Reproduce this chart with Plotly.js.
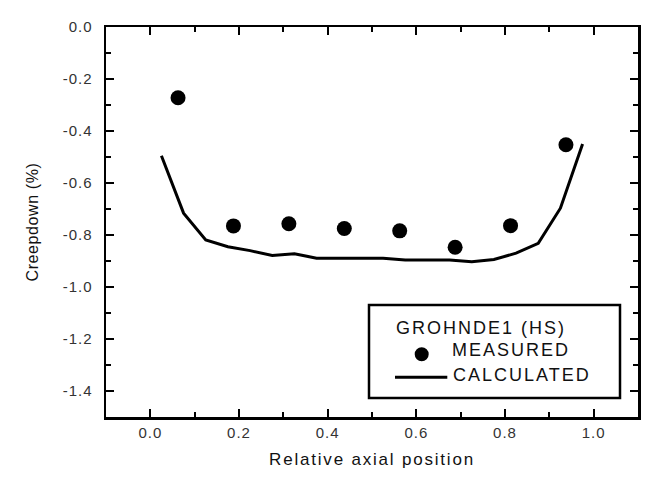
<!DOCTYPE html>
<html>
<head>
<meta charset="utf-8">
<script src="https://cdn.plot.ly/plotly-3.0.1.min.js"></script>
<style>
  html, body { margin: 0; padding: 0; background: #fff; }
  #plot { width: 666px; height: 485px; }
  #plot .xtick text, #plot .ytick text { letter-spacing: 1px; }
  #plot .g-xtitle text { letter-spacing: 1.8px; }
  #plot .g-ytitle text { letter-spacing: 0.6px; }
  #plot .annotation-text { letter-spacing: 2px; }
</style>
</head>
<body>
<div id="plot"></div>
<script>
// Measured creepdown (dots)
const measuredX = [0.0625, 0.1875, 0.3125, 0.4375, 0.5625, 0.6875, 0.8125, 0.9375];
const measuredY = [-0.272, -0.765, -0.757, -0.775, -0.784, -0.847, -0.764, -0.453];

// Calculated creepdown (line)
const calcX = [0.025, 0.075, 0.125, 0.175, 0.225, 0.275, 0.325, 0.375, 0.425, 0.475,
               0.525, 0.575, 0.625, 0.675, 0.725, 0.775, 0.825, 0.875, 0.925, 0.975];
const calcY = [-0.495, -0.716, -0.819, -0.845, -0.860, -0.879, -0.872, -0.889, -0.889, -0.889,
               -0.889, -0.896, -0.896, -0.896, -0.903, -0.894, -0.870, -0.832, -0.697, -0.450];

const xTickVals = [0.0, 0.2, 0.4, 0.6, 0.8, 1.0];
const xTickText = ['0.0', '0.2', '0.4', '0.6', '0.8', '1.0'];
const yTickVals = [0.0, -0.2, -0.4, -0.6, -0.8, -1.0, -1.2, -1.4];
const yTickText = ['0.0', '-0.2', '-0.4', '-0.6', '-0.8', '-1.0', '-1.2', '-1.4'];

const legendTitle = 'GROHNDE1 (HS)';
const legendMeasured = 'MEASURED';
const legendCalculated = 'CALCULATED';

// layout geometry (pixels)
const W = 666, H = 485;
const L = 106, R = 638, T = 27, B = 417;
const px = x => (x - L) / (R - L);
const py = y => (B - y) / (B - T);

const FONT = 'Liberation Sans, Arial, sans-serif';

const traces = [
  {
    x: calcX, y: calcY, type: 'scatter', mode: 'lines',
    line: { color: '#000', width: 3 },
    showlegend: false, hoverinfo: 'skip'
  },
  {
    x: measuredX, y: measuredY, type: 'scatter', mode: 'markers',
    marker: { color: '#000', size: 15, line: { width: 0 } },
    showlegend: false, hoverinfo: 'skip'
  }
];

const axisCommon = {
  showline: true, linecolor: '#000', linewidth: 2.5, mirror: 'ticks',
  ticks: 'inside', ticklen: 8, tickwidth: 2, tickcolor: '#000',
  showgrid: false, zeroline: false,
  tickfont: { family: FONT, size: 15, color: '#333' },
  minor: { ticks: 'inside', ticklen: 5, tickwidth: 2, tickcolor: '#000', showgrid: false }
};

const layout = {
  width: W, height: H,
  margin: { l: L, r: W - R, t: T, b: H - B, pad: 0 },
  paper_bgcolor: '#fff', plot_bgcolor: '#fff',
  showlegend: false,
  xaxis: Object.assign({}, axisCommon, {
    range: [-0.1, 1.1],
    tickmode: 'array', tickvals: xTickVals, ticktext: xTickText,
    minor: Object.assign({}, axisCommon.minor, { dtick: 0.1, tick0: 0.1 }),
    ticklabelstandoff: 0,
    title: { text: 'Relative axial position', font: { family: FONT, size: 17, color: '#111' }, standoff: 14 }
  }),
  yaxis: Object.assign({}, axisCommon, {
    range: [-1.5, 0],
    tickmode: 'array', tickvals: yTickVals, ticktext: yTickText,
    minor: Object.assign({}, axisCommon.minor, { dtick: 0.1, tick0: 0 }),
    ticklabelstandoff: 8,
    title: { text: 'Creepdown (%)', font: { family: FONT, size: 16, color: '#111' }, standoff: 24 }
  }),
  shapes: [
    { type: 'rect', xref: 'paper', yref: 'paper',
      x0: px(369), x1: px(620), y0: py(305), y1: py(398),
      line: { color: '#000', width: 2.5 }, fillcolor: '#fff', layer: 'above' },
    { type: 'circle', xref: 'paper', yref: 'paper',
      x0: px(421.7 - 7), x1: px(421.7 + 7), y0: py(354.3 + 7), y1: py(354.3 - 7),
      line: { color: '#000', width: 0 }, fillcolor: '#000', layer: 'above' },
    { type: 'line', xref: 'paper', yref: 'paper',
      x0: px(395), x1: px(447.3), y0: py(377.3), y1: py(377.3),
      line: { color: '#000', width: 3 }, layer: 'above' }
  ],
  annotations: [
    { xref: 'paper', yref: 'paper', x: px(396), y: py(327.5), xanchor: 'left', yanchor: 'middle', xshift: 11,
      text: legendTitle, showarrow: false, font: { family: FONT, size: 18, color: '#111' } },
    { xref: 'paper', yref: 'paper', x: px(450.5), y: py(350), xanchor: 'left', yanchor: 'middle', xshift: 7,
      text: legendMeasured, showarrow: false, font: { family: FONT, size: 18, color: '#111' } },
    { xref: 'paper', yref: 'paper', x: px(452), y: py(375), xanchor: 'left', yanchor: 'middle', xshift: 9,
      text: legendCalculated, showarrow: false, font: { family: FONT, size: 18, color: '#111' } }
  ]
};

Plotly.newPlot('plot', traces, layout, { staticPlot: true, displayModeBar: false });
</script>
</body>
</html>
